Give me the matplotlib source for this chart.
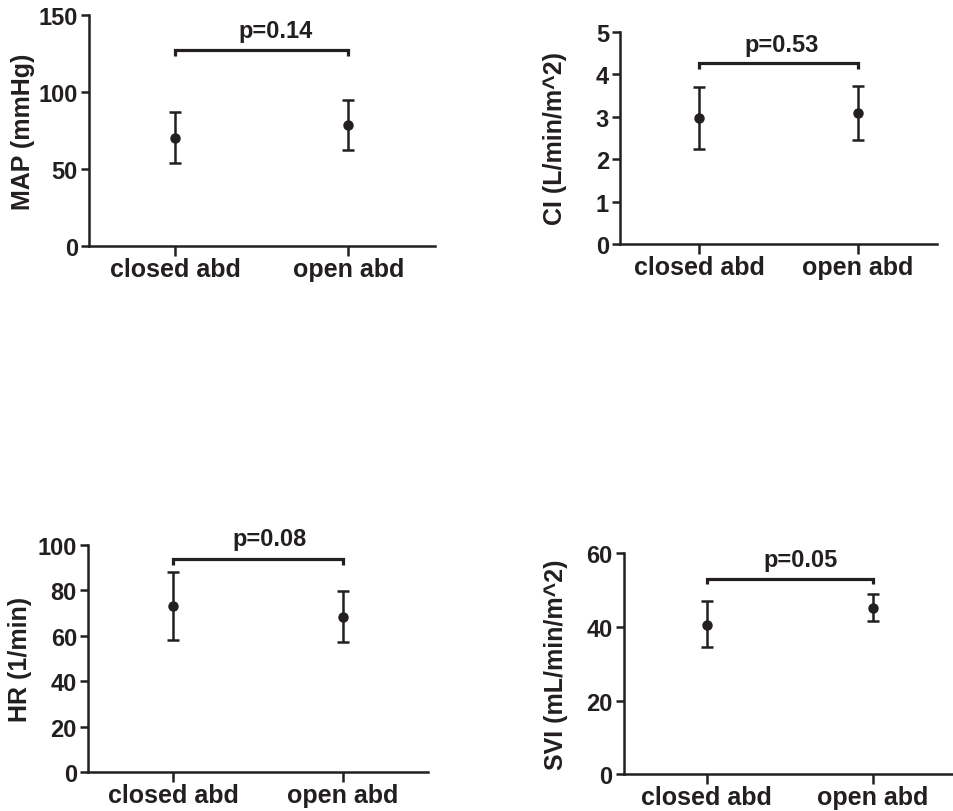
import matplotlib
matplotlib.use("Agg")
import matplotlib.pyplot as plt

plt.rcParams['font.family'] = ['Liberation Sans', 'DejaVu Sans']
plt.rcParams['font.weight'] = 'bold'

INK = '#231f20'

groups = ["closed abd", "open abd"]

# panel data: mean, lower, upper
map_mean = [70.4, 78.7]
map_low = [54.0, 62.6]
map_high = [87.1, 94.9]

ci_mean = [2.97, 3.08]
ci_low = [2.24, 2.46]
ci_high = [3.69, 3.71]

hr_mean = [73.0, 68.3]
hr_low = [58.0, 57.1]
hr_high = [88.3, 79.6]

svi_mean = [40.6, 45.2]
svi_low = [34.5, 41.5]
svi_high = [47.0, 49.0]

ylabels = ["MAP (mmHg)", "CI (L/min/m^2)", "HR (1/min)", "SVI (mL/min/m^2)"]
pvals = ["p=0.14", "p=0.53", "p=0.08", "p=0.05"]
ylims = [150, 5, 100, 60]
yticks = [[0, 50, 100, 150], [0, 1, 2, 3, 4, 5], [0, 20, 40, 60, 80, 100], [0, 20, 40, 60]]
bracket_top = [127.5, 4.26, 93.7, 53.0]
bracket_foot = [123.6, 4.11, 91.2, 51.5]
ptext_y = [136.0, 4.54, 99.9, 56.6]
ptext_x = [0.579, 0.518, 0.571, 0.568]

W, H = 954, 812
fig = plt.figure(figsize=(W / 100, H / 100), dpi=100)

# axes rectangles in pixels: left, top, right, bottom
rects_px = [(89, 16, 435, 247), (620, 32.7, 937, 245),
            (88, 546, 428, 773), (623.7, 554, 955.7, 775.3)]
label_off = [66, 65, 68, 68]

means = [map_mean, ci_mean, hr_mean, svi_mean]
lows = [map_low, ci_low, hr_low, svi_low]
highs = [map_high, ci_high, hr_high, svi_high]

for i in range(4):
    l, t, r, b = rects_px[i]
    ax = fig.add_axes([l / W, 1 - b / H, (r - l) / W, (b - t) / H])
    x = list(range(len(groups)))
    m = means[i]
    yerr = [[m[k] - lows[i][k] for k in x], [highs[i][k] - m[k] for k in x]]
    ax.errorbar(x, m, yerr=yerr, fmt='o', color=INK, ecolor=INK,
                markersize=6.5, elinewidth=1.8, capsize=4.5, capthick=1.8)
    # bracket
    ax.plot([x[0], x[0], x[1], x[1]],
            [bracket_foot[i], bracket_top[i], bracket_top[i], bracket_foot[i]],
            color=INK, lw=2.3, solid_capstyle='butt', solid_joinstyle='miter')
    ax.text(ptext_x[i], ptext_y[i], pvals[i], ha='center', va='baseline',
            fontsize=17, fontweight='bold', color=INK)
    ax.set_xlim(-0.5, 1.5)
    ax.set_ylim(0, ylims[i])
    ax.set_yticks(yticks[i])
    ax.set_xticks(x)
    ax.set_xticklabels(groups, fontsize=18, fontweight='bold', color=INK)
    ax.tick_params(axis='y', labelsize=17, colors=INK, width=1.8, length=6, direction='out', pad=2)
    ax.tick_params(axis='x', colors=INK, width=1.8, length=7, direction='out', pad=1)
    for lab in ax.get_yticklabels():
        lab.set_fontweight('bold')
    for s in ['top', 'right']:
        ax.spines[s].set_visible(False)
    for s in ['left', 'bottom']:
        ax.spines[s].set_linewidth(1.8)
        ax.spines[s].set_color(INK)
    ax.spines['left'].set_bounds(0, ylims[i])
    ax.set_ylabel(ylabels[i], fontsize=18, fontweight='bold', color=INK, va='center')
    ax.yaxis.set_label_coords(-label_off[i] / (r - l), 0.5)
    ax.patch.set_visible(False)

fig.savefig("out.png", dpi=100, facecolor='white')
